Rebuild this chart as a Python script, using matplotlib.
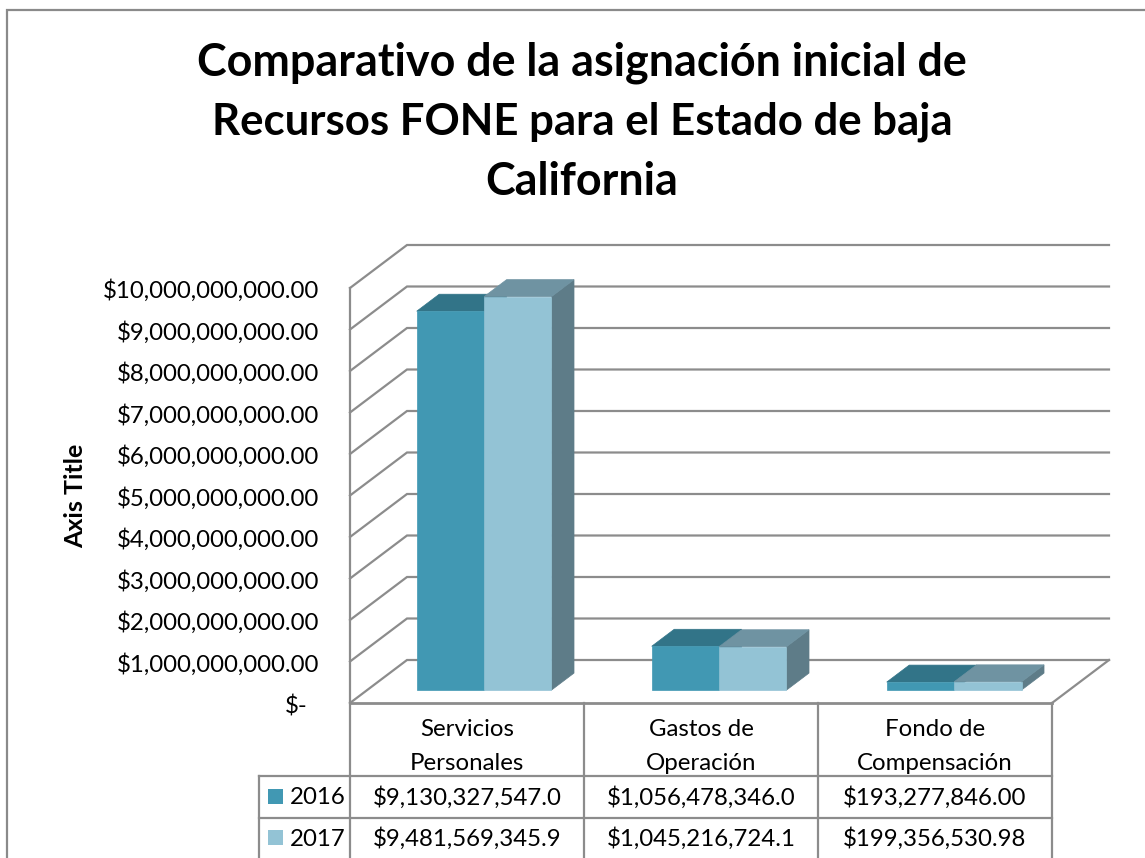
import numpy as np
import matplotlib
matplotlib.use('Agg')
import matplotlib.pyplot as plt
from matplotlib.patches import Polygon, Rectangle
from matplotlib.transforms import ScaledTranslation

plt.rcParams['font.family'] = ['Lato', 'DejaVu Sans']

title_lines = ['Comparativo de la asignación inicial de', 'Recursos FONE para el Estado de baja', 'California']
axis_title = 'Axis Title'
categories = ['Servicios\nPersonales', 'Gastos de\nOperación', 'Fondo de\nCompensación']
years = ['2016', '2017']
values_2016 = [9130327547.0, 1056478346.0, 193277846.00]
values_2017 = [9481569345.9, 1045216724.1, 199356530.98]
labels_2016 = ['$9,130,327,547.0', '$1,056,478,346.0', '$193,277,846.00']
labels_2017 = ['$9,481,569,345.9', '$1,045,216,724.1', '$199,356,530.98']
tick_values = np.arange(0, 11) * 1e9
tick_labels = ['$-'] + ['$%d,000,000,000.00' % i for i in range(1, 11)]

# front, top, side
colors_2016 = ('#4198B3', '#327488', '#2F6B7E')
colors_2017 = ('#93C3D5', '#6F93A2', '#5E7C88')
grid_color = '#8C8C8C'
text_size = 17.3

W, H = 1145, 858
fig = plt.figure(figsize=(W / 100, H / 100), dpi=100)

# pixel overlay for the frame and the data table
over = fig.add_axes([0, 0, 1, 1])
over.set_xlim(0, W)
over.set_ylim(H, 0)
over.axis('off')

ax = fig.add_axes([350 / W, (H - 703) / H, 702 / W, 415 / H])
ax.patch.set_alpha(0)
ax.set_xlim(0, 3)
ax.set_ylim(0, 1e10)

# fake 3d: depth vector of the walls, in data units
depth_x = 57 / 234
depth_y = 43 / 41.5 * 1e9
bar_w = 0.288
bar_d0 = 0.30
bar_d1 = 0.695
bar_step = 1.0043


def project(x, v, d):
	return (x + d * depth_x, v + d * depth_y)


def draw_bar(x, v, cols):
	x2 = x + bar_w
	front = [project(x, 0, bar_d0), project(x2, 0, bar_d0), project(x2, v, bar_d0), project(x, v, bar_d0)]
	top = [project(x, v, bar_d0), project(x2, v, bar_d0), project(x2, v, bar_d1), project(x, v, bar_d1)]
	side = [project(x2, 0, bar_d0), project(x2, 0, bar_d1), project(x2, v, bar_d1), project(x2, v, bar_d0)]
	for pts, col in ((side, cols[2]), (top, cols[1]), (front, cols[0])):
		ax.add_patch(Polygon(pts, closed=True, facecolor=col, edgecolor=col, linewidth=0.5, zorder=3, clip_on=False))


# walls
for v in tick_values:
	ax.plot([0, depth_x, 3 + depth_x], [v, v + depth_y, v + depth_y], color=grid_color,
		linewidth=1.6, zorder=1, clip_on=False, solid_joinstyle='miter')
ax.plot([3, 3 + depth_x], [0, depth_y], color=grid_color, linewidth=1.6, zorder=1, clip_on=False)
ax.plot([0, 3], [0, 0], color=grid_color, linewidth=2.0, zorder=2, clip_on=False)

# bars
for i in range(len(categories)):
	left = i * bar_step + 0.5 - bar_w
	draw_bar(left, values_2016[i], colors_2016)
	draw_bar(left + bar_w, values_2017[i], colors_2017)

for name in ('top', 'right', 'bottom'):
	ax.spines[name].set_visible(False)
ax.spines['left'].set_color(grid_color)
ax.spines['left'].set_linewidth(1.6)
ax.set_xticks([])
ax.set_yticks(tick_values)
ax.set_yticklabels(tick_labels, fontsize=text_size, color='black')
ax.tick_params(axis='y', length=0, pad=22)
# accounting format: labels sit a bit under the gridline, the zero is indented
offset = ScaledTranslation(0, -2 / 72, fig.dpi_scale_trans)
for lab in ax.get_yticklabels():
	lab.set_verticalalignment('center')
	lab.set_transform(lab.get_transform() + offset)
zero = ax.get_yticklabels()[0]
zero.set_transform(zero.get_transform() + ScaledTranslation(-12 / 100, -1 / 100, fig.dpi_scale_trans))

# frame of the chart, right and bottom are cut off in the picture
over.plot([7, 7, W], [H, 10, 10], color='#8A8A8A', linewidth=1.6, solid_joinstyle='miter')

for line, y, size in zip(title_lines, (63, 122, 182), (32.3, 31.5, 32.3)):
	over.text(582, y, line, ha='center', va='center', fontsize=size, fontweight='bold')
over.text(76, 496, axis_title, rotation=90, ha='center', va='center', fontsize=18, fontweight='bold')

# data table
col_x = [350, 584, 818, 1052]
for x in col_x:
	over.plot([x, x], [703, H], color=grid_color, linewidth=1.6)
over.plot([259, 259], [776, H], color=grid_color, linewidth=1.6)
for y in (776, 818):
	over.plot([259, 1052], [y, y], color=grid_color, linewidth=1.6)

for i, cat in enumerate(categories):
	cx = (col_x[i] + col_x[i + 1]) / 2
	line1, line2 = cat.split('\n')
	over.text(cx, 730, line1, ha='center', va='center', fontsize=text_size)
	over.text(cx, 763, line2, ha='center', va='center', fontsize=text_size)
	over.text(cx, 798, labels_2016[i], ha='center', va='center', fontsize=text_size)
	over.text(cx, 839, labels_2017[i], ha='center', va='center', fontsize=text_size)

for year, y, col in ((years[0], 797, colors_2016[0]), (years[1], 838, colors_2017[0])):
	over.add_patch(Rectangle((268, y - 8), 15, 15, facecolor=col, edgecolor='none'))
	over.text(290, y + 1, year, ha='left', va='center', fontsize=text_size)

fig.savefig('out.png', dpi=100, facecolor='white')
